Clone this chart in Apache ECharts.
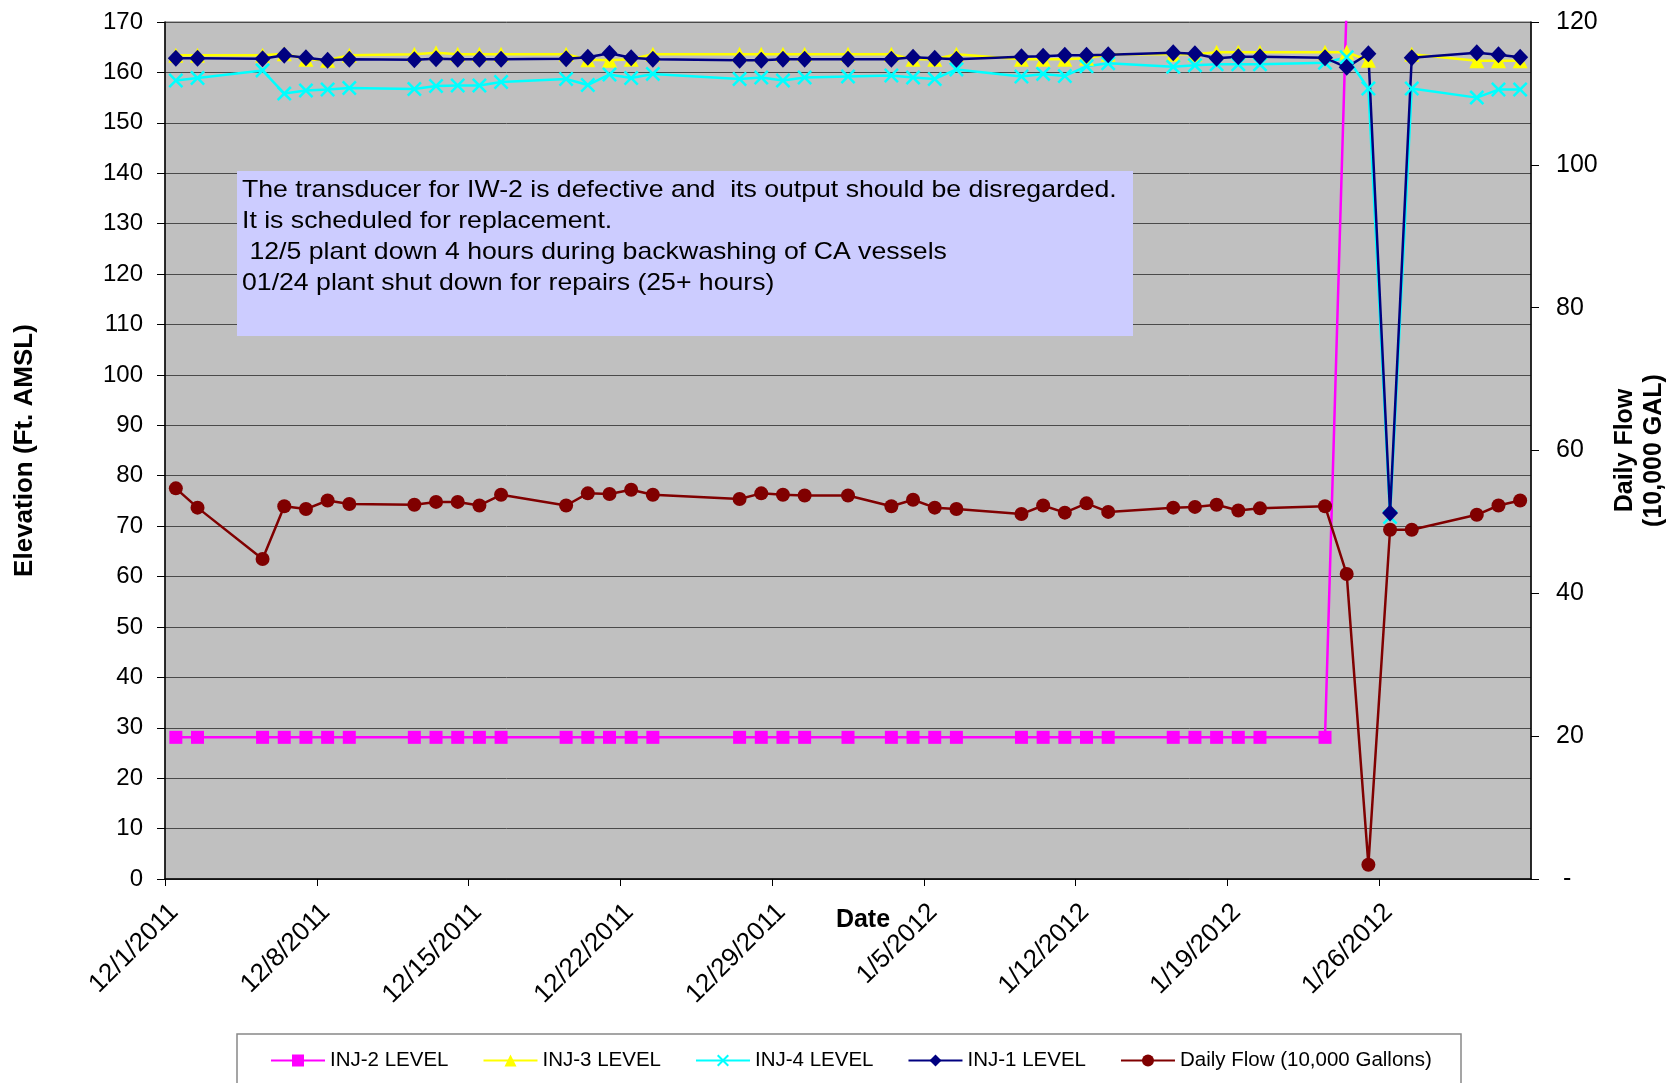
<!DOCTYPE html>
<html>
<head>
<meta charset="utf-8">
<title>Injection well levels</title>
<script src="https://cdn.jsdelivr.net/npm/echarts@6.0.0/dist/echarts.min.js"></script>
<style>
  html, body { margin: 0; padding: 0; background: #fff; }
  #main { width: 1673px; height: 1083px; }
</style>
</head>
<body>
<div id="main"></div>
<script>
// reading dates (weekday readings)
const dates = [
  '12/1/2011', '12/2/2011', '12/5/2011', '12/6/2011', '12/7/2011', '12/8/2011', '12/9/2011',
  '12/12/2011', '12/13/2011', '12/14/2011', '12/15/2011', '12/16/2011',
  '12/19/2011', '12/20/2011', '12/21/2011', '12/22/2011', '12/23/2011',
  '12/27/2011', '12/28/2011', '12/29/2011', '12/30/2011',
  '1/1/2012',
  '1/3/2012', '1/4/2012', '1/5/2012', '1/6/2012',
  '1/9/2012', '1/10/2012', '1/11/2012', '1/12/2012', '1/13/2012',
  '1/16/2012', '1/17/2012', '1/18/2012', '1/19/2012', '1/20/2012',
  '1/23/2012', '1/24/2012', '1/25/2012', '1/26/2012', '1/27/2012',
  '1/30/2012', '1/31/2012', '2/1/2012'
];

// Elevation (Ft. AMSL)
const inj2Level = [
  28.1, 28.1, 28.1, 28.1, 28.1, 28.1, 28.1,
  28.1, 28.1, 28.1, 28.1, 28.1,
  28.1, 28.1, 28.1, 28.1, 28.1,
  28.1, 28.1, 28.1, 28.1,
  28.1,
  28.1, 28.1, 28.1, 28.1,
  28.1, 28.1, 28.1, 28.1, 28.1,
  28.1, 28.1, 28.1, 28.1, 28.1,
  28.1, 174, null, null, null,
  null, null, null
];
const inj3Level = [
  163.4, 163.4, 163.4, 163.7, 162.6, 162.4, 163.4,
  163.6, 163.9, 163.6, 163.6, 163.6,
  163.6, 162.5, 162.4, 162.6, 163.6,
  163.6, 163.6, 163.6, 163.6,
  163.6,
  163.6, 162.6, 162.6, 163.6,
  162.6, 162.6, 162.6, 162.8, 163.6,
  163.6, 163.6, 164.0, 164.0, 164.0,
  164.0, 164.0, 162.4, null, 163.6,
  162.3, 162.3, 162.3
];
const inj4Level = [
  158.4, 158.9, 160.4, 155.8, 156.4, 156.6, 156.9,
  156.7, 157.3, 157.4, 157.4, 158.1,
  158.7, 157.5, 159.6, 158.9, 159.7,
  158.7, 159.0, 158.4, 159.0,
  159.2,
  159.4, 159.0, 158.7, 160.6,
  159.2, 159.7, 159.3, 161.2, 161.8,
  161.1, 161.4, 161.6, 161.6, 161.6,
  161.9, 163.0, 156.8, 71.8, 156.8,
  155.0, 156.6, 156.6
];
const inj1Level = [
  162.8, 162.8, 162.7, 163.4, 162.9, 162.4, 162.6,
  162.5, 162.7, 162.6, 162.6, 162.6,
  162.7, 163.0, 163.8, 162.9, 162.6,
  162.4, 162.4, 162.6, 162.6,
  162.6,
  162.6, 163.0, 162.8, 162.6,
  163.1, 163.2, 163.4, 163.4, 163.5,
  163.9, 163.7, 162.8, 163.1, 163.1,
  162.9, 161.0, 163.7, 72.6, 162.9,
  163.9, 163.5, 163.0
];
// Daily Flow (10,000 GAL)
const dailyFlow = [
  54.7, 52.0, 44.8, 52.2, 51.8, 53.0, 52.5,
  52.4, 52.8, 52.8, 52.3, 53.8,
  52.3, 54.0, 53.9, 54.5, 53.8,
  53.2, 54.0, 53.8, 53.7,
  53.7,
  52.2, 53.1, 52.0, 51.8,
  51.1, 52.3, 51.3, 52.6, 51.4,
  52.0, 52.1, 52.4, 51.6, 51.9,
  52.2, 42.7, 2.0, 48.9, 48.9,
  51.0, 52.3, 53.0
];

const notes = [
  'The transducer for IW-2 is defective and  its output should be disregarded.',
  'It is scheduled for replacement.',
  ' 12/5 plant down 4 hours during backwashing of CA vessels',
  '01/24 plant shut down for repairs (25+ hours)'
];

const DAY = 86400000;
const origin = Date.UTC(2011, 11, 1);

// days since 12/1/2011, readings sit in the middle of their day like the excel chart
function dayOf(s) {
  const [m, d, y] = s.split('/').map(Number);
  return (Date.UTC(y, m - 1, d) - origin) / DAY + 0.5;
}
function dateLabel(v) {
  const dt = new Date(origin + v * DAY);
  return (dt.getUTCMonth() + 1) + '/' + dt.getUTCDate() + '/' + dt.getUTCFullYear();
}
function pairs(vals) {
  return dates.map((d, i) => [dayOf(d), vals[i]]);
}

const FONT = "'Liberation Sans', Arial, sans-serif";
const xMark = 'path://M0,1.2 L1.2,0 L5,3.8 L8.8,0 L10,1.2 L6.2,5 L10,8.8 L8.8,10 L5,6.2 L1.2,10 L0,8.8 L3.8,5 Z';

let myChart = echarts.init(document.getElementById('main'));

let option = {
  animation: false,
  textStyle: { fontFamily: FONT, color: '#000' },
  grid: {
    left: 165,
    right: 142,
    top: 22,
    bottom: 204,
    show: true,
    backgroundColor: '#C0C0C0',
    borderColor: '#666',
    borderWidth: 1,
    outerBoundsMode: 'none'
  },
  graphic: [
    {
      type: 'rect',
      z: 100,
      shape: { x: 237, y: 171, width: 896, height: 165 },
      style: { fill: '#CCCCFF' }
    },
    {
      // the text in the original is drawn a bit wider than normal
      type: 'text',
      z: 101,
      x: 242,
      y: 175,
      scaleX: 1.11,
      style: {
        text: notes.join('\n'),
        font: '24px ' + FONT,
        lineHeight: 31,
        fill: '#000'
      }
    },
    {
      type: 'rect',
      z: 100,
      shape: { x: 237, y: 1034, width: 1224, height: 70 },
      style: { fill: '#fff', stroke: '#888', lineWidth: 1.5 }
    }
  ],
  legend: {
    z: 110,
    left: 270,
    top: 1050,
    padding: 0,
    itemGap: 34,
    itemWidth: 54,
    itemHeight: 15,
    textStyle: { fontFamily: FONT, fontSize: 20.5, color: '#000' },
    data: ['INJ-2 LEVEL', 'INJ-3 LEVEL', 'INJ-4 LEVEL', 'INJ-1 LEVEL', 'Daily Flow (10,000 Gallons)']
  },
  xAxis: {
    type: 'value',
    min: 0,
    max: 63,
    interval: 7,
    name: 'Date',
    nameLocation: 'middle',
    nameGap: 29,
    nameMoveOverlap: false,
    nameTextStyle: { fontFamily: FONT, fontSize: 25, fontWeight: 'bold', color: '#000', padding: [0, 0, 0, 30] },
    axisLine: { show: true, lineStyle: { color: '#000', width: 1.5 } },
    axisTick: { show: true, length: 7, lineStyle: { color: '#000' } },
    splitLine: { show: false },
    axisLabel: {
      rotate: 45,
      margin: 20,
      fontSize: 26,
      color: '#000',
      verticalAlign: 'top',
      showMaxLabel: false,
      formatter: dateLabel
    }
  },
  yAxis: [
    {
      type: 'value',
      min: 0,
      max: 170,
      interval: 10,
      name: 'Elevation (Ft. AMSL)',
      nameLocation: 'middle',
      nameGap: 127,
      nameMoveOverlap: false,
      nameTextStyle: { fontFamily: FONT, fontSize: 26, fontWeight: 'bold', color: '#000' },
      axisLine: { show: true, lineStyle: { color: '#000', width: 1.5 } },
      axisTick: { show: true, length: 8, lineStyle: { color: '#000' } },
      splitLine: { show: true, lineStyle: { color: '#4a4a4a', width: 1 } },
      axisLabel: { fontSize: 24, color: '#000', margin: 22 }
    },
    {
      type: 'value',
      min: 0,
      max: 120,
      interval: 20,
      position: 'right',
      name: 'Daily Flow\n(10,000 GAL)',
      nameLocation: 'middle',
      nameRotate: 90,
      nameGap: 80,
      nameMoveOverlap: false,
      nameTextStyle: { fontFamily: FONT, fontSize: 25, fontWeight: 'bold', color: '#000', lineHeight: 29 },
      axisLine: { show: true, lineStyle: { color: '#000', width: 1.5 } },
      axisTick: { show: true, length: 8, lineStyle: { color: '#000' } },
      splitLine: { show: false },
      axisLabel: {
        fontSize: 25,
        color: '#000',
        margin: 25,
        formatter: (v) => (v === 0 ? ' -' : String(v))
      }
    }
  ],
  series: [
    {
      name: 'INJ-2 LEVEL',
      type: 'line',
      data: pairs(inj2Level),
      symbol: 'rect',
      symbolSize: 13,
      color: '#FF00FF',
      lineStyle: { width: 2.5 }
    },
    {
      name: 'INJ-3 LEVEL',
      type: 'line',
      data: pairs(inj3Level),
      symbol: 'triangle',
      symbolSize: 15,
      color: '#FFFF00',
      lineStyle: { width: 2.5 }
    },
    {
      name: 'INJ-4 LEVEL',
      type: 'line',
      data: pairs(inj4Level),
      symbol: xMark,
      symbolSize: 15,
      color: '#00FFFF',
      lineStyle: { width: 2.5 }
    },
    {
      name: 'INJ-1 LEVEL',
      type: 'line',
      data: pairs(inj1Level),
      symbol: 'diamond',
      symbolSize: [16, 17],
      color: '#000080',
      lineStyle: { width: 2.5 }
    },
    {
      name: 'Daily Flow (10,000 Gallons)',
      type: 'line',
      yAxisIndex: 1,
      data: pairs(dailyFlow),
      symbol: 'circle',
      symbolSize: 14,
      color: '#800000',
      lineStyle: { width: 2.5 }
    }
  ]
};

myChart.setOption(option);
</script>
</body>
</html>
